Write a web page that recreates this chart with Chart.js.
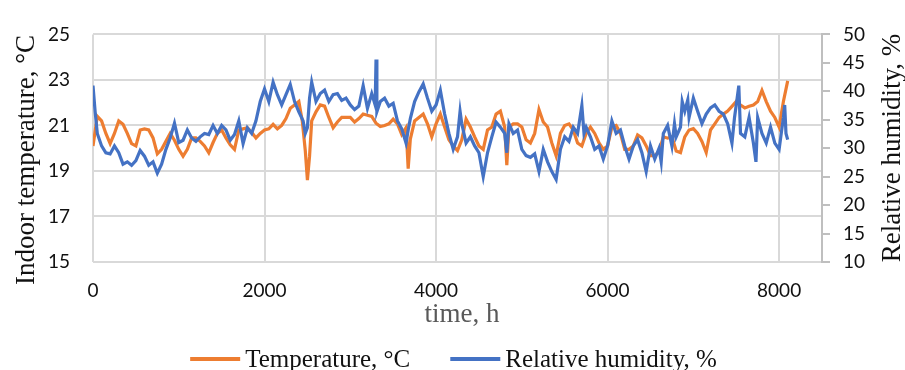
<!DOCTYPE html>
<html><head><meta charset="utf-8">
<script src="https://cdn.jsdelivr.net/npm/chart.js@4/dist/chart.umd.min.js"></script>
<style>html,body{margin:0;padding:0;background:#fff;}#wrap{width:905px;height:370px;position:relative;}</style>
</head><body><div id="wrap"><canvas id="c" width="905" height="370"></canvas></div>
<script>
// ---- data ----
const tempHours = [0,50,100,150,200,250,300,350,400,450,500,550,600,650,700,750,800,850,900,950,
1000,1050,1100,1150,1200,1250,1300,1350,1400,1450,1500,1550,1600,1650,1700,1750,1800,1850,1900,1950,
2000,2050,2100,2150,2200,2250,2300,2350,2400,2440,2475,2500,2525,2550,2600,2650,2700,2750,2800,2850,
2900,2950,3000,3050,3100,3150,3200,3250,3300,3350,3400,3450,3500,3550,3600,3650,3675,3700,3750,3800,
3850,3900,3950,4000,4050,4100,4150,4200,4250,4300,4350,4400,4450,4500,4550,4600,4650,4700,4750,4800,
4825,4850,4900,4950,5000,5050,5100,5150,5200,5250,5300,5350,5400,5450,5500,5550,5600,5650,5700,5750,
5800,5850,5900,5950,6000,6050,6100,6150,6200,6250,6300,6350,6400,6450,6500,6550,6600,6650,6700,6750,
6800,6850,6900,6950,7000,7050,7100,7150,7200,7250,7300,7350,7400,7450,7500,7550,7600,7650,7700,7750,
7800,7850,7900,7950,8000,8050,8100];
const temperature = [20.1,21.4,21.2,20.65,20.2,20.65,21.2,21.05,20.65,20.2,20.1,20.8,20.85,20.8,20.45,19.75,19.95,20.3,20.65,20.35,
19.95,19.65,19.95,20.45,20.45,20.3,20.1,19.8,20.25,20.65,20.8,20.45,20.15,19.95,20.8,20.85,20.9,20.7,20.45,20.65,
20.8,20.85,21.05,20.85,21.0,21.3,21.75,21.9,22.05,21.2,19.9,18.6,19.65,21.2,21.6,21.9,21.85,21.35,20.9,21.15,
21.35,21.35,21.35,21.15,21.3,21.5,21.45,21.4,21.1,20.95,21.0,21.07,21.28,21.07,20.6,20.9,19.1,20.4,21.2,21.35,
21.5,21.07,20.5,21.07,21.5,20.93,20.37,20.1,19.9,20.37,21.28,20.93,20.5,20.1,19.95,20.8,20.93,21.5,21.63,20.93,
19.25,20.93,21.07,21.07,20.93,20.37,20.23,20.65,21.7,21.15,20.93,20.23,19.67,20.65,21.0,21.07,20.8,20.23,20.1,20.65,
20.93,20.65,20.23,19.95,20.1,20.93,21.0,20.65,19.95,19.95,20.1,20.58,20.45,20.1,19.67,19.67,19.85,20.5,20.44,20.5,
19.88,19.81,20.5,20.8,20.86,20.65,20.3,19.81,20.8,21.07,21.35,21.5,21.63,21.84,22.05,21.9,21.77,21.84,21.9,22.05,
22.54,22.05,21.63,21.35,20.93,22.05,22.96];

const rhHours = [0,25,50,100,150,200,250,300,350,400,450,500,550,600,650,700,750,800,850,900,950,
1000,1050,1100,1150,1200,1250,1300,1350,1400,1450,1500,1550,1600,1650,1700,1750,1800,1850,1900,1950,
2000,2050,2100,2150,2200,2250,2300,2350,2400,2450,2475,2500,2525,2550,2600,2650,2700,2750,2800,2850,
2900,2950,3000,3050,3100,3150,3200,3250,3290,3300,3310,3350,3400,3450,3500,3550,3600,3650,3675,3700,
3750,3800,3850,3900,3950,4000,4050,4100,4150,4200,4250,4280,4300,4350,4400,4450,4500,4550,4600,4650,
4700,4750,4800,4825,4850,4900,4950,5000,5050,5100,5150,5200,5250,5300,5350,5400,5450,5500,5550,5600,
5650,5700,5725,5750,5800,5850,5900,5950,6000,6050,6100,6150,6200,6250,6300,6350,6400,6450,6500,6550,
6600,6625,6650,6700,6750,6780,6800,6850,6870,6900,6935,6950,7000,7050,7100,7150,7200,7250,7300,7350,
7400,7450,7480,7500,7530,7550,7600,7650,7700,7730,7750,7800,7850,7900,7950,8000,8025,8050,8065,8080,8100];
const humidity = [41.0,36.4,32.6,30.4,29.2,29.0,30.4,29.2,27.2,27.6,27.0,27.8,29.6,28.6,27.0,27.6,25.6,27.2,29.8,31.8,34.4,
31.0,31.4,33.2,31.8,31.2,32.0,32.6,32.4,34.0,32.6,34.0,33.2,31.4,32.4,34.8,30.8,33.6,32.6,34.8,38.2,
40.4,38.2,41.6,39.4,37.6,39.4,41.2,38.2,36.4,34.8,32.6,33.6,38.8,41.6,38.2,39.6,40.2,38.2,39.4,39.6,
38.4,38.8,37.6,36.8,37.4,41.0,37.0,39.6,37.6,45.6,36.4,38.2,38.8,37.4,37.9,34.8,33.4,30.9,33.2,35.2,
38.2,39.9,41.3,38.8,36.5,37.6,40.2,36.0,32.6,29.8,32.0,36.5,34.3,30.9,32.0,30.4,29.2,25.0,29.2,32.0,
34.6,33.7,32.6,29.2,34.3,32.6,33.2,29.8,28.7,28.4,29.0,25.9,29.8,27.6,25.9,24.5,29.8,32.0,31.2,33.7,
32.6,37.5,32.6,33.7,32.0,29.8,30.4,28.1,30.4,34.8,32.6,33.2,30.4,28.1,30.4,31.5,29.2,25.9,30.4,28.1,
30.0,27.6,32.6,34.0,30.4,34.3,32.0,33.7,38.2,36.5,38.5,35.4,38.8,36.5,34.3,36.0,37.1,37.6,36.5,36.0,
34.3,30.9,35.4,37.6,41.0,32.6,32.0,35.4,30.9,27.6,35.4,32.6,30.9,33.7,30.9,29.8,32.6,35.4,37.6,32.6,31.5];

const xTicks = [0,2000,4000,6000,8000];
const tempTicks = [15,17,19,21,23,25];
const rhTicks = [10,15,20,25,30,35,40,45,50];
const seriesNames = ['Temperature, °C','Relative humidity, %'];
const axisTitles = {x:'time, h', left:'Indoor temperature, °C', right:'Relative humidity, %'};

// ---- styles ----
const ORANGE = '#ED7D31', BLUE = '#4472C4', GRID = '#d9d9d9';
const tickFont = {family:'Lato', size:19};
const SERIF = '"Liberation Serif", serif';
const plain = v => String(v);

const titlesAndLegend = {
  id:'titlesAndLegend',
  afterDraw(chart){
    const ctx = chart.ctx;
    ctx.save();
    ctx.font = '27px ' + SERIF;
    ctx.fillStyle = '#595959';
    ctx.textAlign = 'center';
    ctx.textBaseline = 'alphabetic';
    ctx.fillText(axisTitles.x, 462, 322);
    ctx.fillStyle = '#111';
    ctx.save();
    ctx.translate(34, 160);
    ctx.rotate(-Math.PI/2);
    ctx.fillText(axisTitles.left, 0, 0);
    ctx.restore();
    ctx.save();
    ctx.translate(900, 148);
    ctx.rotate(-Math.PI/2);
    ctx.fillText(axisTitles.right, 0, 0);
    ctx.restore();
    ctx.font = '25px ' + SERIF;
    ctx.textAlign = 'left';
    const colors = [ORANGE, BLUE];
    const lineLen = 50, gapText = 5, gapItem = 40;
    const widths = seriesNames.map(t => lineLen + gapText + ctx.measureText(t).width);
    const total = widths[0] + widths[1] + gapItem;
    let x = 453.5 - total/2;
    seriesNames.forEach((t,i) => {
      ctx.strokeStyle = colors[i];
      ctx.lineWidth = 4;
      ctx.beginPath();
      ctx.moveTo(x, 359); ctx.lineTo(x + lineLen, 359);
      ctx.stroke();
      ctx.fillStyle = '#111';
      ctx.fillText(t, x + lineLen + gapText, 367);
      x += widths[i] + gapItem;
    });
    ctx.restore();
  }
};

new Chart(document.getElementById('c'), {
  type:'line',
  data:{datasets:[
    {label:seriesNames[0], data:tempHours.map((h,i)=>({x:h,y:temperature[i]})), yAxisID:'yT',
     borderColor:ORANGE, backgroundColor:ORANGE, borderWidth:3.2, pointRadius:0, tension:0, order:2},
    {label:seriesNames[1], data:rhHours.map((h,i)=>({x:h,y:humidity[i]})), yAxisID:'yH',
     borderColor:BLUE, backgroundColor:BLUE, borderWidth:3.2, pointRadius:0, tension:0, order:1}
  ]},
  options:{
    responsive:false, animation:false,
    layout:{padding:{top:23,left:0,right:0,bottom:0}},
    plugins:{legend:{display:false}, tooltip:{enabled:false}},
    scales:{
      x:{type:'linear', position:'bottom', min:0, max:8500,
        afterBuildTicks:s=>{s.ticks = xTicks.map(v=>({value:v}));},
        afterFit:s=>{s.height = 108;},
        ticks:{font:tickFont, color:'#111', padding:17, maxRotation:0, autoSkip:false, callback:plain},
        grid:{color:GRID, lineWidth:2, drawTicks:false},
        border:{display:false}},
      yT:{type:'linear', position:'left', min:15, max:25,
        afterBuildTicks:s=>{s.ticks = tempTicks.map(v=>({value:v}));},
        afterFit:s=>{s.width = 93;},
        ticks:{font:tickFont, color:'#111', padding:23, callback:plain},
        grid:{color:GRID, lineWidth:2, drawTicks:false},
        border:{display:false}},
      yH:{type:'linear', position:'right', min:10, max:50,
        afterBuildTicks:s=>{s.ticks = rhTicks.map(v=>({value:v}));},
        afterFit:s=>{s.width = 83;},
        ticks:{font:tickFont, color:'#111', padding:13, callback:plain},
        grid:{drawOnChartArea:false, drawTicks:true, tickLength:8, color:'#bfbfbf', lineWidth:2},
        border:{display:true, color:'#bfbfbf', width:2}}
    }
  },
  plugins:[titlesAndLegend]
});
</script></body></html>
